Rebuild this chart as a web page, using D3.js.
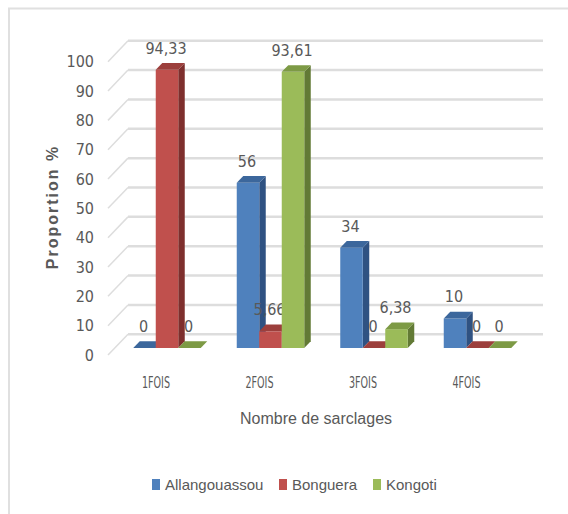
<!DOCTYPE html>
<html>
<head>
<meta charset="utf-8">
<script src="https://cdn.jsdelivr.net/npm/d3@7"></script>
<style>
  body { margin: 0; background: #fff; }
  text { font-family: "Liberation Sans", sans-serif; fill: #595959; }
  text.cond { font-family: "DejaVu Sans Condensed", "Liberation Sans", sans-serif; font-stretch: condensed; }
</style>
</head>
<body>
<div id="chart"></div>
<script>
const categories = ["1FOIS", "2FOIS", "3FOIS", "4FOIS"];
const series = ["Allangouassou", "Bonguera", "Kongoti"];
const allangouassou = [0, 56, 34, 10];
const bonguera = [94.33, 5.66, 0, 0];
const kongoti = [0, 93.61, 6.38, 0];
const labels = [
  ["0", "56", "34", "10"],
  ["94,33", "5,66", "0", "0"],
  ["0", "93,61", "6,38", "0"]
];
const yTicks = [0, 10, 20, 30, 40, 50, 60, 70, 80, 90, 100];

const values = [allangouassou, bonguera, kongoti];
const front = ["#4f81bd", "#c0504d", "#9bbb59"];
const topC = ["#3c679c", "#9c3f3c", "#7d9a45"];
const sideC = ["#2f5282", "#7e2f2d", "#627a35"];

const W = 568, H = 514;
const dx = 6.5, dy = -6.7;

const svg = d3.select("#chart").append("svg")
  .attr("width", W).attr("height", H);

// chart frame
svg.append("rect")
  .attr("x", 9).attr("y", 8.5)
  .attr("width", W + 10).attr("height", H + 10)
  .attr("fill", "none").attr("stroke", "#e0e0e0").attr("stroke-width", 2);

const yFront = d3.scaleLinear().domain([0, 100]).range([355, 61.7]);
const yBack = d3.scaleLinear().domain([0, 100]).range([334.3, 40.7]);
const yBar = d3.scaleLinear().domain([0, 100]).range([348, 53]);

const x = d3.scaleBand().domain(categories).range([115.25, 529.25]);
const xs = d3.scaleBand().domain(series).range([0, 67.5]);
const groupOff = (x.bandwidth() - 67.5) / 2;

// gridlines (back wall + side diagonal)
const grid = svg.append("g");
grid.selectAll("line.h").data(yTicks).join("line")
  .attr("x1", 128).attr("x2", 543)
  .attr("y1", d => yBack(d)).attr("y2", d => yBack(d))
  .attr("stroke", "#dddddd").attr("stroke-width", 2.5);
grid.selectAll("line.d").data(yTicks).join("line")
  .attr("x1", 108).attr("x2", 128)
  .attr("y1", d => yFront(d)).attr("y2", d => yBack(d))
  .attr("stroke", "#dddddd").attr("stroke-width", 1.5);

// y tick labels
svg.append("g").selectAll("text").data(yTicks).join("text")
  .attr("class", "cond")
  .attr("x", 94).attr("y", d => yFront(d))
  .attr("dy", "0.35em").attr("text-anchor", "end")
  .attr("font-size", 16)
  .attr("fill", "#6a6a6a")
  .text(d => d);

// bars
const bars = [];
categories.forEach((c, i) => {
  series.forEach((s, j) => {
    bars.push({ c, s, j, v: values[j][i], label: labels[j][i] });
  });
});

const g = svg.append("g");
bars.forEach(b => {
  const x0 = x(b.c) + groupOff + xs(b.s);
  const w = xs.bandwidth();
  const y0 = yBar(0), y1 = yBar(b.v);
  // side
  g.append("path")
    .attr("d", `M${x0 + w},${y1} L${x0 + w + dx},${y1 + dy} L${x0 + w + dx},${y0 + dy} L${x0 + w},${y0} Z`)
    .attr("fill", sideC[b.j]);
  // front
  g.append("rect")
    .attr("x", x0).attr("y", y1)
    .attr("width", w).attr("height", y0 - y1)
    .attr("fill", front[b.j]);
  // top
  g.append("path")
    .attr("d", `M${x0},${y1} L${x0 + dx},${y1 + dy} L${x0 + w + dx},${y1 + dy} L${x0 + w},${y1} Z`)
    .attr("fill", topC[b.j]);
  // value label
  g.append("text")
    .attr("class", "cond")
    .attr("x", x0 + w / 2 - 1).attr("y", y1 + dy - 15)
    .attr("dy", "0.35em").attr("text-anchor", "middle")
    .attr("font-size", 16)
    .text(b.label);
});

// category labels
svg.append("g").selectAll("text").data(categories).join("text")
  .attr("class", "cond")
  .attr("x", d => x(d) + x.bandwidth() / 2 - 11 - 14)
  .attr("y", 382).attr("dy", "0.35em")
  .attr("font-size", 16)
  .attr("textLength", 28).attr("lengthAdjust", "spacingAndGlyphs")
  .attr("fill", "#666")
  .text(d => d);

// axis titles
svg.append("text")
  .attr("x", 316).attr("y", 418).attr("dy", "0.35em")
  .attr("text-anchor", "middle").attr("font-size", 16)
  .text("Nombre de sarclages");

svg.append("text")
  .attr("transform", "translate(52,207) rotate(-90)")
  .attr("dy", "0.35em").attr("text-anchor", "middle")
  .attr("font-size", 16).attr("font-weight", "bold")
  .attr("letter-spacing", 2)
  .attr("fill", "#666")
  .text("Proportion %");

// legend
const legendX = [152, 279, 373];
const legend = svg.append("g");
series.forEach((s, j) => {
  legend.append("rect")
    .attr("x", legendX[j]).attr("y", 479)
    .attr("width", 8).attr("height", 11)
    .attr("fill", front[j]);
  legend.append("text")
    .attr("x", legendX[j] + 13).attr("y", 484.5).attr("dy", "0.35em")
    .attr("font-size", 15)
    .text(s);
});
</script>
</body>
</html>
